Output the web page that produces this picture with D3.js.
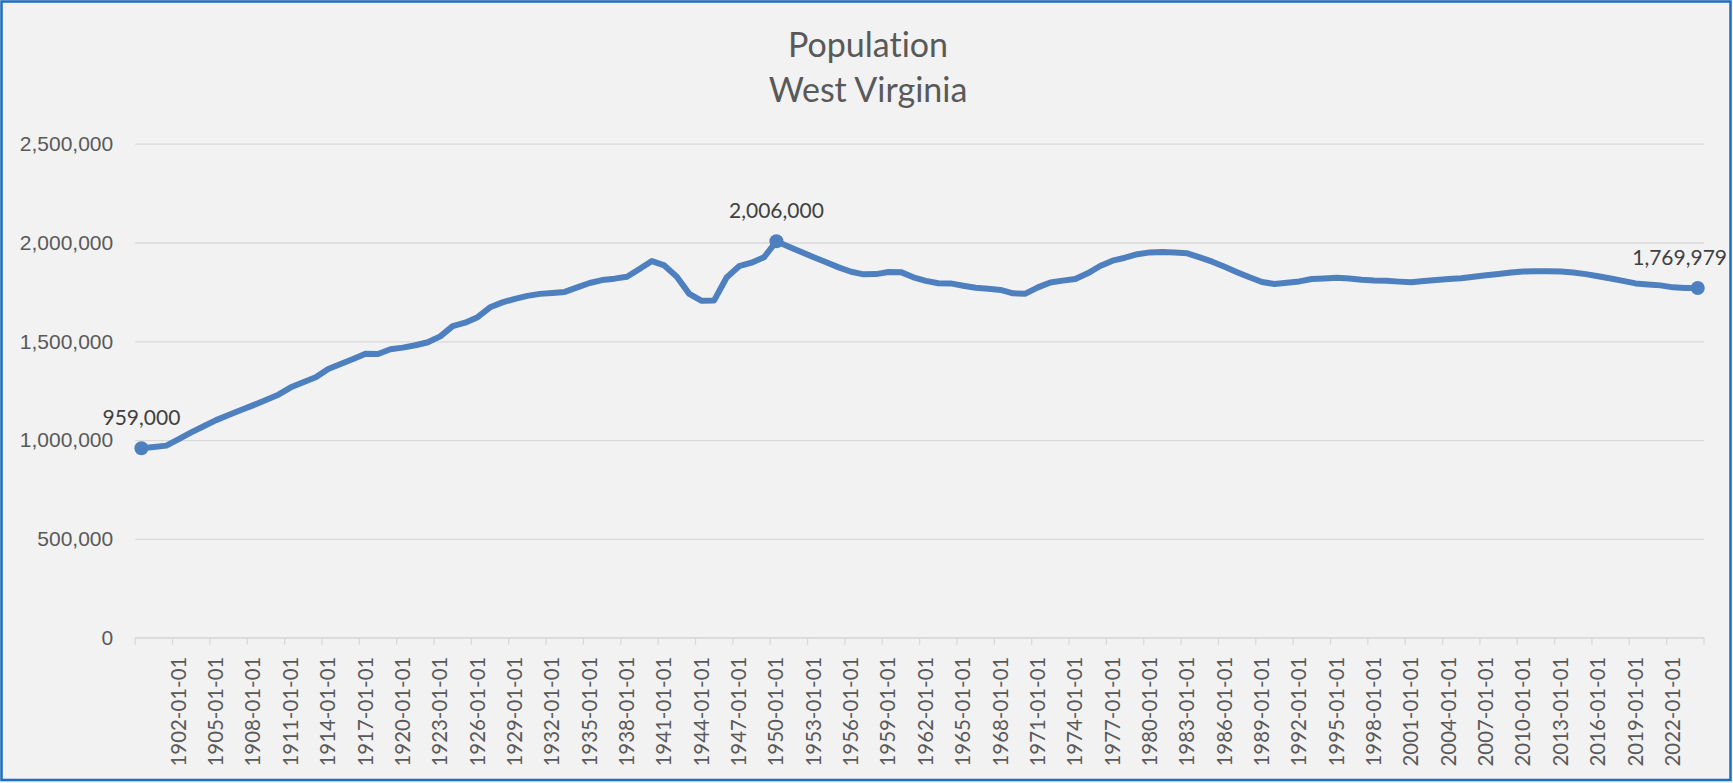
<!DOCTYPE html>
<html>
<head>
<meta charset="utf-8">
<script src="https://cdn.jsdelivr.net/npm/d3@7"></script>
<style>
  body { margin: 0; background: #f2f2f2; }
  svg { display: block; font-family: Lato, "Open Sans", sans-serif; font-variant-ligatures: none; }
</style>
</head>
<body>
<svg></svg>
<script>
let years = d3.range(1899, 2025);
let population = [
    959000, 965000, 972000, 1005000, 1039000, 1070000, 1101000, 1127000, 1152000, 1177000,
    1203000, 1230000, 1267000, 1293000, 1318000, 1360000, 1385000, 1410000, 1437000, 1436000,
    1460000, 1468000, 1480000, 1495000, 1525000, 1577000, 1594000, 1622000, 1672000, 1697000,
    1715000, 1730000, 1740000, 1745000, 1750000, 1773000, 1795000, 1810000, 1817000, 1827000,
    1866000, 1906000, 1884000, 1827000, 1740000, 1705000, 1707000, 1823000, 1880000, 1898000,
    1925000, 2006000, 1979000, 1952000, 1925000, 1900000, 1874000, 1852000, 1839000, 1840000,
    1851000, 1850000, 1824000, 1806000, 1794000, 1793000, 1781000, 1771000, 1766000, 1760000,
    1743000, 1741000, 1773000, 1798000, 1807000, 1815000, 1844000, 1881000, 1908000, 1923000,
    1941000, 1950000, 1952000, 1949000, 1945000, 1925000, 1903000, 1877000, 1850000, 1824000,
    1800000, 1790000, 1796000, 1803000, 1815000, 1818000, 1821000, 1818000, 1812000, 1808000,
    1806000, 1802000, 1799000, 1805000, 1810000, 1815000, 1819000, 1827000, 1834000, 1841000,
    1848000, 1853000, 1855000, 1855000, 1853000, 1848000, 1840000, 1829000, 1818000, 1806000,
    1793000, 1788000, 1783000, 1773000, 1770000, 1769979
];
let yTicks = [0, 500000, 1000000, 1500000, 2000000, 2500000];
let labelYears = d3.range(1902, 2025, 3);
let titleLines = ['Population', 'West Virginia'];

let width = 1733;
let height = 783;
let blue = '#4e80bf';

let data = years.map((y, i) => ({ year: y, value: population[i] }));

let maxIdx = d3.maxIndex(population);
let marked = [data[0], data[maxIdx], data[data.length - 1]];

let x = d3.scaleBand()
    .domain(years)
    .range([135.2, 1704]);

let y = d3.scaleLinear()
    .domain([0, 2500000])
    .range([637.7, 143.7]);

let cx = d => x(d.year) + x.bandwidth() / 2;

let svg = d3.select('svg')
    .attr('width', width)
    .attr('height', height);

svg.append('rect')
    .attr('x', 1.5).attr('y', 1.5)
    .attr('width', width - 4).attr('height', height - 4.5)
    .attr('fill', '#f2f2f2')
    .attr('stroke', '#1b6ec2')
    .attr('stroke-width', 2.5);

// title
svg.append('text')
    .attr('x', 868)
    .attr('text-anchor', 'middle')
    .attr('fill', '#595959')
    .style('font-size', '34px')
    .selectAll('tspan')
    .data(titleLines)
    .enter()
    .append('tspan')
        .attr('x', 868)
        .attr('y', (d, i) => 57 + i * 45)
        .text(d => d);

// y axis + gridlines
let yAxis = svg.append('g')
    .attr('transform', 'translate(135.2,0)')
    .call(d3.axisLeft(y)
        .tickValues(yTicks)
        .tickFormat(d3.format(','))
        .tickSize(-(1704 - 135.2))
        .tickPadding(22));

yAxis.select('.domain').remove();
yAxis.selectAll('.tick line')
    .attr('stroke', '#d9d9d9')
    .attr('stroke-width', 1.3);
yAxis.selectAll('.tick text')
    .attr('fill', '#595959')
    .style('font-size', '21px');

// x axis line, tick marks every 3 years
let xAxis = svg.append('g')
    .attr('transform', 'translate(0,637.7)');

xAxis.append('line')
    .attr('x1', 135.2).attr('x2', 1704)
    .attr('stroke', '#d9d9d9')
    .attr('stroke-width', 1.3);

let tickYears = years.filter((d, i) => i % 3 === 0);
xAxis.selectAll('.xtick')
    .data(tickYears)
    .enter()
    .append('line')
        .classed('xtick', true)
        .attr('x1', d => x(d))
        .attr('x2', d => x(d))
        .attr('y1', 0)
        .attr('y2', 7)
        .attr('stroke', '#d9d9d9')
        .attr('stroke-width', 1.3);

xAxis.append('line')
    .attr('x1', 1704).attr('x2', 1704)
    .attr('y1', 0).attr('y2', 7)
    .attr('stroke', '#d9d9d9')
    .attr('stroke-width', 1.3);

xAxis.selectAll('.xlabel')
    .data(labelYears)
    .enter()
    .append('text')
        .classed('xlabel', true)
        .attr('transform', d => `translate(${x(d) + x.bandwidth() / 2 + 7},19) rotate(-90)`)
        .attr('text-anchor', 'end')
        .attr('fill', '#595959')
        .style('font-size', '20.4px')
        .text(d => d + '-01-01');

// line
let line = d3.line()
    .x(cx)
    .y(d => y(d.value));

svg.append('path')
    .datum(data)
    .attr('d', line)
    .attr('fill', 'none')
    .attr('stroke', blue)
    .attr('stroke-width', 6)
    .attr('stroke-linejoin', 'round')
    .attr('stroke-linecap', 'round');

svg.selectAll('.marker')
    .data(marked)
    .enter()
    .append('circle')
        .classed('marker', true)
        .attr('cx', cx)
        .attr('cy', d => y(d.value))
        .attr('r', 7)
        .attr('fill', blue);

let labels = svg.selectAll('.dlabel')
    .data(marked)
    .enter()
    .append('text')
        .classed('dlabel', true)
        .attr('x', cx)
        .attr('y', d => y(d.value) - 23)
        .attr('text-anchor', 'middle')
        .attr('fill', '#404040')
        .style('font-size', '21px')
        .text(d => d3.format(',')(d.value));

// keep labels inside the chart area
labels.each(function(d) {
    let w = this.getComputedTextLength();
    let right = cx(d) + w / 2;
    if (right > 1727) {
        d3.select(this).attr('x', 1727 - w / 2);
    }
});
</script>
</body>
</html>
